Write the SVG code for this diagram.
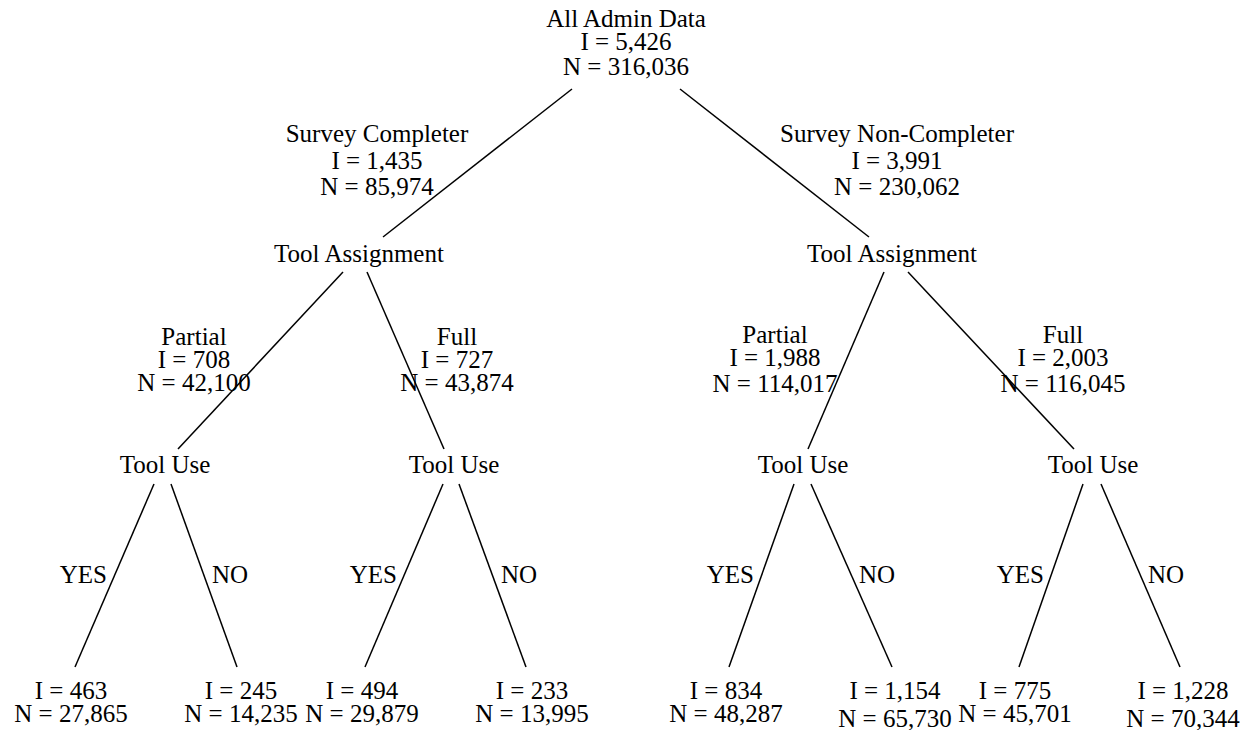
<svg xmlns="http://www.w3.org/2000/svg" width="1244" height="730" viewBox="0 0 1244 730">
<style>
text{font-family:'Liberation Serif','DejaVu Serif','Times New Roman',serif;font-size:25px;fill:#000;text-anchor:middle}
.e{text-anchor:end}
.s{text-anchor:start}
#connectors line{stroke:#000;stroke-width:1.5;fill:none}
</style>
<rect width="1244" height="730" fill="#fff"/>
<g id="connectors">
<line x1="572" y1="89" x2="383" y2="237"/>
<line x1="680" y1="89" x2="869" y2="237"/>
<line x1="343" y1="272" x2="178" y2="449"/>
<line x1="367" y1="272" x2="444" y2="449"/>
<line x1="884" y1="272" x2="808" y2="449"/>
<line x1="908" y1="272" x2="1074" y2="449"/>
<line x1="154" y1="484" x2="75" y2="667"/>
<line x1="171" y1="484" x2="237" y2="667"/>
<line x1="443" y1="484" x2="365" y2="667"/>
<line x1="459" y1="484" x2="526" y2="667"/>
<line x1="794" y1="484" x2="729" y2="667"/>
<line x1="811" y1="484" x2="892" y2="667"/>
<line x1="1083" y1="484" x2="1019" y2="667"/>
<line x1="1101" y1="484" x2="1180" y2="667"/>
<text class="e" x="107" y="583">YES</text>
<text class="s" x="212" y="583">NO</text>
<text class="e" x="397" y="583">YES</text>
<text class="s" x="501" y="583">NO</text>
<text class="e" x="754" y="583">YES</text>
<text class="s" x="859" y="583">NO</text>
<text class="e" x="1044" y="583">YES</text>
<text class="s" x="1148" y="583">NO</text>
</g>
<g id="root"><text x="626" y="27">All Admin Data</text><text x="626" y="50">I = 5,426</text><text x="626" y="75">N = 316,036</text></g>
<g id="label-survey-completer"><text x="377" y="142">Survey Completer</text><text x="377" y="169">I = 1,435</text><text x="377" y="195">N = 85,974</text></g>
<g id="label-survey-non-completer"><text x="897" y="142">Survey Non-Completer</text><text x="897" y="169">I = 3,991</text><text x="897" y="195">N = 230,062</text></g>
<g id="tool-assignment-left"><text x="359" y="262">Tool Assignment</text></g>
<g id="tool-assignment-right"><text x="892" y="262">Tool Assignment</text></g>
<g id="label-partial-left"><text x="194" y="345">Partial</text><text x="194" y="368">I = 708</text><text x="194" y="391">N = 42,100</text></g>
<g id="label-full-left"><text x="457" y="345">Full</text><text x="457" y="368">I = 727</text><text x="457" y="391">N = 43,874</text></g>
<g id="label-partial-right"><text x="775" y="343">Partial</text><text x="775" y="366">I = 1,988</text><text x="775" y="392">N = 114,017</text></g>
<g id="label-full-right"><text x="1063" y="343">Full</text><text x="1063" y="366">I = 2,003</text><text x="1063" y="392">N = 116,045</text></g>
<g id="tool-use-1"><text x="165" y="473">Tool Use</text></g>
<g id="tool-use-2"><text x="454" y="473">Tool Use</text></g>
<g id="tool-use-3"><text x="803" y="473">Tool Use</text></g>
<g id="tool-use-4"><text x="1093" y="473">Tool Use</text></g>
<g id="leaf-1"><text x="71" y="699">I = 463</text><text x="71" y="722">N = 27,865</text></g>
<g id="leaf-2"><text x="241" y="699">I = 245</text><text x="241" y="722">N = 14,235</text></g>
<g id="leaf-3"><text x="362" y="699">I = 494</text><text x="362" y="722">N = 29,879</text></g>
<g id="leaf-4"><text x="532" y="699">I = 233</text><text x="532" y="722">N = 13,995</text></g>
<g id="leaf-5"><text x="726" y="699">I = 834</text><text x="726" y="722">N = 48,287</text></g>
<g id="leaf-6"><text x="895" y="699">I = 1,154</text><text x="895" y="727">N = 65,730</text></g>
<g id="leaf-7"><text x="1015" y="699">I = 775</text><text x="1015" y="722">N = 45,701</text></g>
<g id="leaf-8"><text x="1183" y="699">I = 1,228</text><text x="1183" y="727">N = 70,344</text></g>
</svg>
